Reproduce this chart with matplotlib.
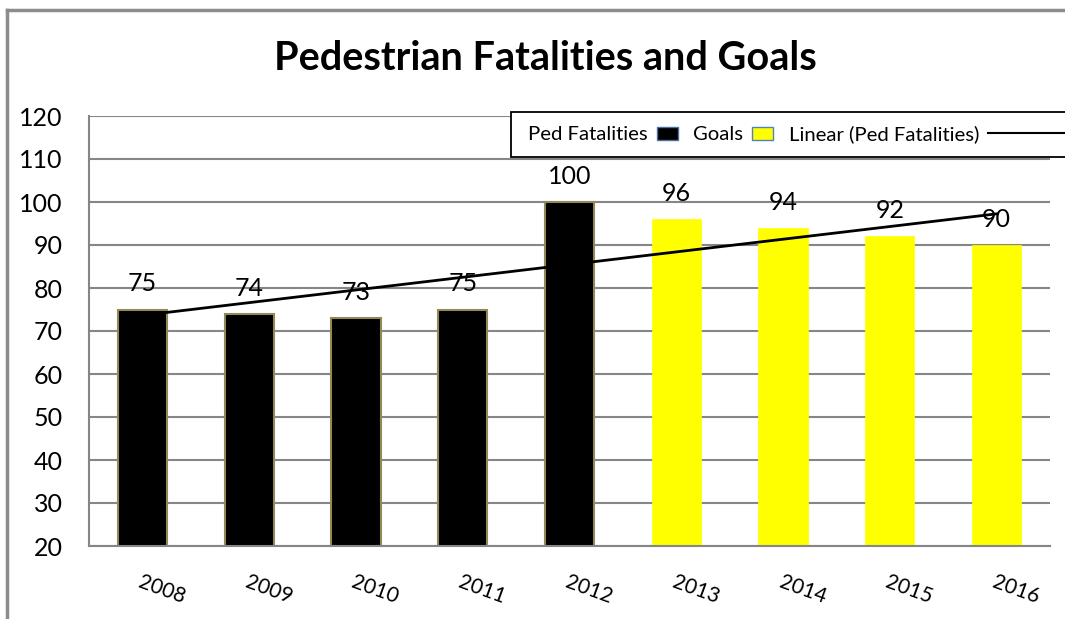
import matplotlib
matplotlib.use("Agg")
import matplotlib.pyplot as plt
import numpy as np
from matplotlib.patches import Patch, Rectangle
from matplotlib.lines import Line2D
from matplotlib.legend_handler import HandlerLine2D, HandlerPatch

plt.rcParams['font.family'] = ['Lato', 'DejaVu Sans']

# data
years = ['2008', '2009', '2010', '2011', '2012', '2013', '2014', '2015', '2016']
fatalities = [75, 74, 73, 75, 100]          # actual counts, 2008-2012
goals = [96, 94, 92, 90]                    # goals, 2013-2016
all_values = fatalities + goals

W, H = 1065, 619
fig = plt.figure(figsize=(W / 100, H / 100), dpi=100)
ax = fig.add_axes([89 / W, 1 - 546 / H, (1050 - 89) / W, (546 - 116) / H])

x = np.arange(len(years))
n_f = len(fatalities)
ax.bar(x[:n_f], fatalities, width=0.46, color='black', edgecolor='#938953',
       linewidth=1.5, zorder=2)
ax.bar(x[n_f:], goals, width=0.46, color='#ffff00', edgecolor='#ffff00',
       linewidth=0.5, zorder=2)

# linear trendline over all points
coef = np.polyfit(x, all_values, 1)
ax.plot(x, np.polyval(coef, x), color='black', lw=2, zorder=3)

for xi, v in zip(x, all_values):
    ax.text(xi, v + 6, str(v), ha='center', va='center', fontsize=18, zorder=4)

ax.set_ylim(20, 120)
ax.set_xlim(-0.5, len(years) - 0.5)
ax.set_yticks(range(20, 121, 10))
ax.grid(axis='y', color='#868686', lw=1.5, zorder=0)
ax.set_axisbelow(True)
for s in ['top', 'right']:
    ax.spines[s].set_visible(False)
ax.spines['left'].set_color('#868686')
ax.spines['bottom'].set_color('#868686')
ax.spines['left'].set_linewidth(1.5)
ax.spines['bottom'].set_linewidth(1.5)
ax.tick_params(axis='y', length=0, pad=19, labelsize=18)
ax.tick_params(axis='x', length=0, pad=19, labelsize=15)
ax.set_xticks(x)
ax.set_xticklabels(years, rotation=-20, ha='left', va='top', rotation_mode='anchor')

fig.text(545 / W, 1 - 58 / H, 'Pedestrian Fatalities and Goals', ha='center',
         va='center', fontsize=28.5, fontweight='bold')

# outer chart border (top and left visible)
fig.add_artist(Line2D([7 / W, 1.01], [1 - 10 / H, 1 - 10 / H], color='#8c8c8c', lw=2.5,
                      transform=fig.transFigure))
fig.add_artist(Line2D([7 / W, 7 / W], [-0.01, 1 - 10 / H], color='#8c8c8c', lw=2.5,
                      transform=fig.transFigure))

# legend box
fig.add_artist(Rectangle((511 / W, 1 - 157 / H), (1080 - 511) / W, 45 / H,
                         transform=fig.transFigure, facecolor='white',
                         edgecolor='black', lw=1.3, zorder=4))


class LongLine(HandlerLine2D):
    def create_artists(self, legend, orig, xd, yd, width, height, fontsize, trans):
        return super().create_artists(legend, orig, xd, yd, width * 3, height,
                                      fontsize, trans)


def small_rect(legend, orig_handle, xdescent, ydescent, width, height, fontsize):
    # 21 px wide swatch at the left of the handle box
    return Rectangle((-xdescent, -ydescent + height * 0.05), 15.1, height * 0.9)


handles = [Patch(facecolor='black', edgecolor='#4f6fa0', lw=1),
           Patch(facecolor='#ffff00', edgecolor='#4f81bd', lw=1),
           Line2D([], [], color='black', lw=1.5)]
labels = ['Ped Fatalities', 'Goals', 'Linear (Ped Fatalities)']
fig.legend(handles, labels, loc='center left',
           bbox_to_anchor=(528 / W, 1 - 134.5 / H), bbox_transform=fig.transFigure,
           ncol=3, markerfirst=False, frameon=False, fontsize=14.6,
           handlelength=1.75, handleheight=0.7, handletextpad=0.45,
           columnspacing=0.05, borderpad=0, borderaxespad=0,
           handler_map={Line2D: LongLine(),
                        Patch: HandlerPatch(patch_func=small_rect)})

fig.savefig('out.png', dpi=100)
